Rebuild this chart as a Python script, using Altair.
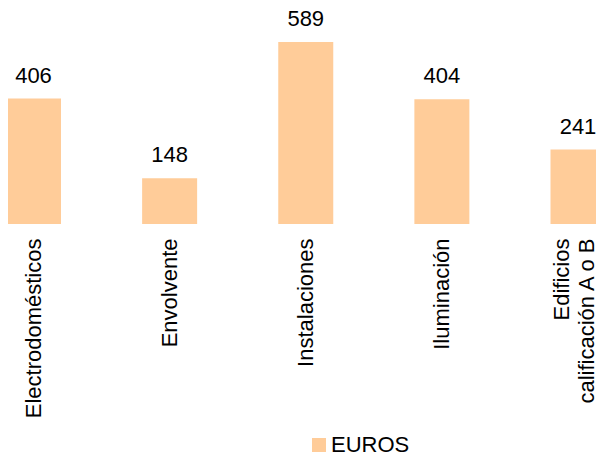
import altair as alt
import pandas as pd

categories = ["Electrodomésticos", "Envolvente", "Instalaciones", "Iluminación", "Edificios calificación A o B"]
positions = [0, 1, 2, 3, 4]
values = [406, 148, 589, 404, 241]
series = ["EUROS"] * 5

df = pd.DataFrame({"pos": positions, "cat": categories, "val": values, "serie": series})

FONT = "Liberation Sans"
FS = 22

label_expr = (
    "datum.value == 0 ? 'Electrodomésticos' : "
    "datum.value == 1 ? 'Envolvente' : "
    "datum.value == 2 ? 'Instalaciones' : "
    "datum.value == 3 ? 'Iluminación' : "
    "['Edificios', 'calificación A o B']"
)

base = alt.Chart(df).encode(
    x=alt.X(
        "pos:Q",
        title=None,
        scale=alt.Scale(domain=[0, 4], range=[25.5, 570], nice=False, zero=False, padding=0),
        axis=alt.Axis(
            values=positions,
            labelAngle=-90,
            labelAlign="right",
            labelBaseline="middle",
            ticks=False,
            domain=False,
            grid=False,
            offset=-229,
            labelPadding=14,
            labelOffset={"condition": {"test": "datum.value == 4", "value": -17}, "value": 0},
            labelFontSize=FS,
            labelFont=FONT,
            labelColor="#000000",
            labelLineHeight=25,
            labelLimit=0,
            labelOverlap=False,
            labelFlush=False,
            labelExpr=label_expr,
        ),
    ),
    y=alt.Y(
        "val:Q",
        title=None,
        scale=alt.Scale(domain=[0, 589], range=[216, 34], nice=False, zero=True, padding=0),
        axis=None,
    ),
)

bars = base.mark_bar(width=55).encode(
    color=alt.Color(
        "serie:N",
        scale=alt.Scale(range=["#FFCC99"]),
        legend=alt.Legend(
            title=None,
            orient="none",
            legendX=300,
            legendY=426,
            symbolType="square",
            symbolSize=196,
            symbolStrokeWidth=0,
            labelFontSize=FS,
            labelFont=FONT,
            labelColor="#000000",
            labelOffset=1,
            padding=0,
        ),
    )
)

labels = base.mark_text(
    baseline="alphabetic", dy=-16, fontSize=FS, font=FONT, color="#000000"
).encode(text="val:Q")

chart = (
    (bars + labels)
    .properties(width=588, height=445, padding=0, background="white",
                autosize=alt.AutoSizeParams(type="none"))
    .configure_view(strokeWidth=0, stroke="transparent")
)

chart.save("out.html", embed_options={"renderer": "svg", "actions": False})
